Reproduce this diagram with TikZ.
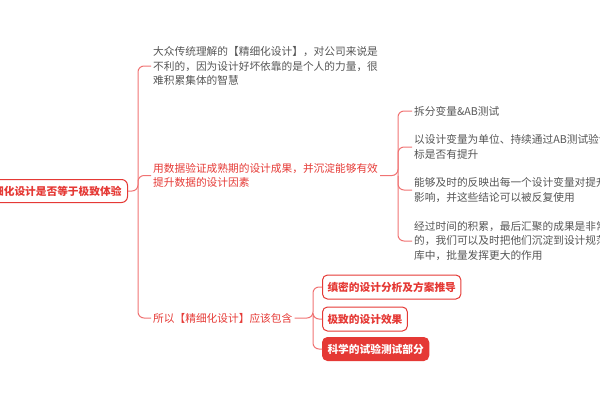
\documentclass[tikz,border=0pt]{standalone}
\usepackage{fontspec}
\setmainfont{Noto Sans CJK SC}
\usepackage{tikz}

\definecolor{mapred}{HTML}{E53935}
\definecolor{mapline}{HTML}{F07373}
\definecolor{mapgray}{HTML}{555555}

\begin{document}
\begin{tikzpicture}[x=1pt,y=-1pt,
    every node/.style={font=\fontsize{10.7}{14.5}\selectfont, align=left, inner sep=2pt},
    conn/.style={draw=mapline, line width=1pt, rounded corners=6pt},
    graytext/.style={text=mapgray, anchor=west},
    redtext/.style={text=mapred, anchor=west},
    rootbox/.style={draw=mapred, line width=1pt, fill=white, rounded corners=6pt, text=mapred,
      font=\fontsize{10.7}{14.5}\selectfont\bfseries, minimum height=23pt, inner xsep=6pt, anchor=east},
    leafbox/.style={draw=mapred, line width=1pt, fill=white, rounded corners=5pt, text=mapred,
      font=\fontsize{10.7}{14.5}\selectfont\bfseries, minimum height=24pt, inner xsep=5pt, anchor=west},
    leaffill/.style={leafbox, fill=mapred, text=white, minimum height=23pt}]

      \useasboundingbox (0,0) rectangle (600,400);

      \node[rootbox] (root) at (128,191) {精细化设计是否等于极致体验};
      \coordinate (hub) at (138,191);


      \node[graytext] (view) at (151,66) {大众传统理解的【精细化设计】，对公司来说是\\不利的，因为设计好坏依靠的是个人的力量，很\\难积累集体的智慧};

      \node[redtext] (data) at (151,175.5) {用数据验证成熟期的设计成果，并沉淀能够有效\\提升数据的设计因素};

      \node[redtext] (should) at (151,318) {所以【精细化设计】应该包含};

      \draw[conn] (root.east) -- (hub) |- (view.west);
      \draw[conn] (hub) |- (data.west);
      \draw[conn] (hub) |- (should.west);


      \coordinate (datahub) at (398,175.5);

      \node[graytext] (split) at (412,111) {拆分变量\&AB测试};
      \node[graytext] (unit) at (412,147) {以设计变量为单位、持续通过AB测试验证指\\标是否有提升};
      \node[graytext] (react) at (412,190) {能够及时的反映出每一个设计变量对提升数据的\\影响，并这些结论可以被反复使用};
      \node[graytext] (store) at (412,241) {经过时间的积累，最后汇聚的成果是非常有价值\\的，我们可以及时把他们沉淀到设计规范\\库中，批量发挥更大的作用};

      \draw[conn] (data.east) -- (datahub) |- (split.west);
      \draw[conn] (datahub) |- (unit.west);
      \draw[conn] (datahub) |- (react.west);
      \draw[conn] (datahub) |- (store.west);


      \coordinate (shouldhub) at (313,318);

      \node[leafbox] (plan) at (322,287) {缜密的设计分析及方案推导};
      \node[leafbox] (effect) at (322,319) {极致的设计效果};
      \node[leaffill] (test) at (322,349) {科学的试验测试部分};

      \draw[conn] (should.east) -- (shouldhub) |- (plan.west);
      \draw[conn] (shouldhub) |- (effect.west);
      \draw[conn] (shouldhub) |- (test.west);

    \end{tikzpicture}
\end{document}
